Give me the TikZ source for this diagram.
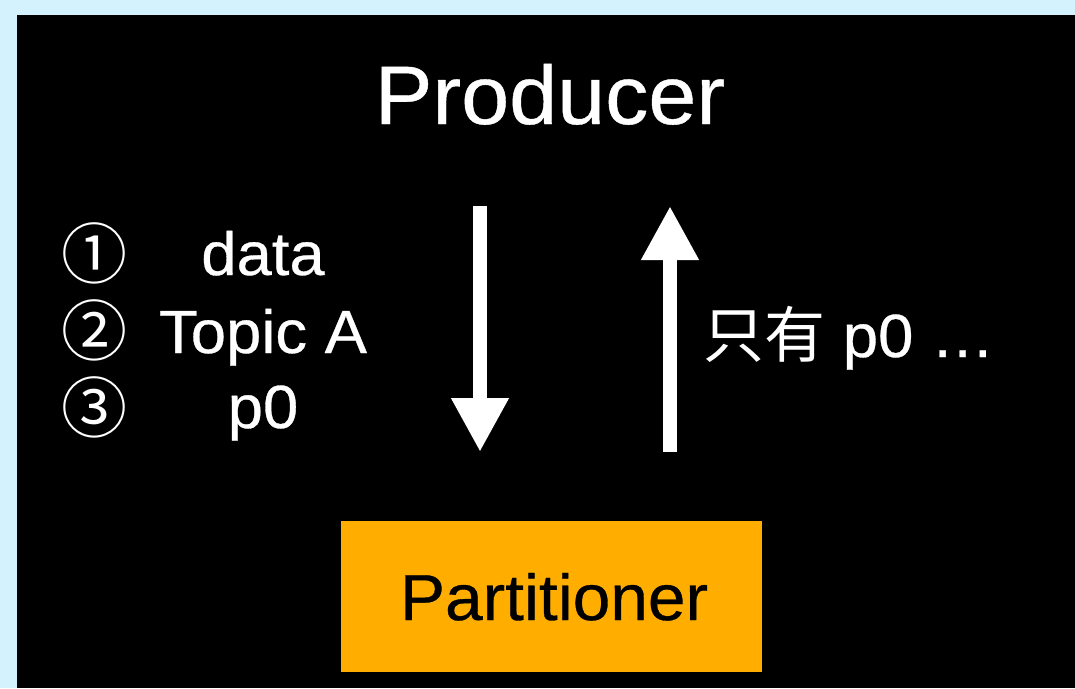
\documentclass[tikz,border=0pt]{standalone}
\usepackage{fontspec}
\setmainfont{Liberation Sans}[FakeStretch=1.04, FakeBold=0.5]
\newfontfamily\cjk{Noto Sans CJK SC}
\usetikzlibrary{arrows.meta}
\definecolor{skyback}{HTML}{D4F2FD}
\definecolor{partorange}{HTML}{FFAE00}
\tikzset{
  bigarrow/.style={draw=white, line width=14pt, -{Triangle[width=54pt,length=54pt]}},
  whitetext/.style={text=white, inner sep=0pt, anchor=base},
  circnum/.style={text=white, inner sep=0pt, anchor=center, font=\cjk\fontsize{66}{66}\selectfont},
}
\begin{document}
\begin{tikzpicture}[x=1pt,y=-1pt]
  \useasboundingbox (0,0) rectangle (1075,688);
  % page and dark panel
  \fill[skyback] (0,0) rectangle (1075,688);
  \fill[black] (17,15) rectangle (1075,688);

  % title
  \node[whitetext, font=\fontsize{83}{83}\selectfont] (producer) at (550,124) {Producer};

  % partitioner box
  \node[fill=partorange, minimum width=421pt, minimum height=151pt, inner sep=0pt] (partbox) at (551.5,596.5) {};
  \node[inner sep=0pt, anchor=base, font=\fontsize{65}{65}\selectfont] (partitioner) at (554,620) {Partitioner};

  % request items
  \node[circnum] (n1) at (94,253) {①};
  \node[circnum] (n2) at (94,330) {②};
  \node[circnum] (n3) at (94,407) {③};
  \node[whitetext, font=\fontsize{61}{61}\selectfont] (data) at (263,275) {data};
  \node[whitetext, font=\fontsize{61}{61}\selectfont] (topic) at (263,353) {Topic A};
  \node[whitetext, font=\fontsize{61}{61}\selectfont] (pzero) at (263,428) {p0};

  % reply text
  \node[whitetext, anchor=base west, font=\fontsize{61}{61}\selectfont] (reply) at (703,357) {{\cjk 只有} p0 …};

  % arrow end points
  \coordinate (downstart) at (480,206);
  \coordinate (downend) at (480,452);
  \coordinate (upstart) at (670,452);
  \coordinate (upend) at (670,206);
  \draw[bigarrow] (downstart) -- (downend);
  \draw[bigarrow] (upstart) -- (upend);
\end{tikzpicture}
\end{document}
